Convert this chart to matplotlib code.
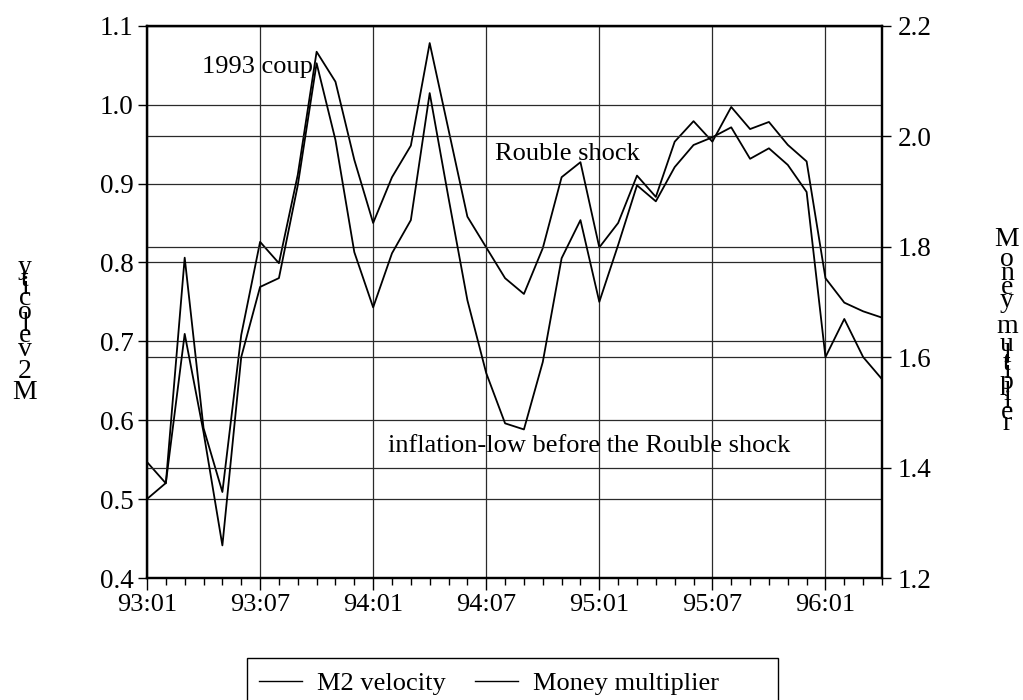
import matplotlib
matplotlib.use("Agg")
import matplotlib.pyplot as plt
import numpy as np
from matplotlib.ticker import MultipleLocator
from matplotlib.patches import Rectangle

plt.rcParams['font.family'] = ['Liberation Serif', 'DejaVu Serif']

# ---- data (monthly, 93:01 .. 96:04) ----
tick_labels = ["93:01", "93:07", "94:01", "94:07", "95:01", "95:07", "96:01"]
m2_velocity = [0.547, 0.520, 0.806, 0.590, 0.509, 0.708, 0.826, 0.799, 0.911, 1.067,
               1.029, 0.930, 0.850, 0.908, 0.948, 1.078, 0.968, 0.858, 0.819, 0.780,
               0.760, 0.818, 0.908, 0.927, 0.819, 0.850, 0.910, 0.883, 0.953, 0.979,
               0.953, 0.997, 0.969, 0.978, 0.949, 0.928, 0.780, 0.749, 0.738, 0.730]
money_multiplier = [1.343, 1.372, 1.642, 1.464, 1.259, 1.600, 1.727, 1.743, 1.911, 2.132,
                    1.993, 1.790, 1.690, 1.788, 1.848, 2.078, 1.888, 1.703, 1.571, 1.480,
                    1.469, 1.591, 1.779, 1.848, 1.700, 1.803, 1.911, 1.882, 1.944, 1.984,
                    1.998, 2.016, 1.959, 1.978, 1.948, 1.899, 1.600, 1.669, 1.600, 1.560]
left_label = "M2 velocity"
right_label = "Money multiplier"
notes = [("1993 coup", 2.92, 1.048), ("Rouble shock", 18.48, 0.938),
         ("inflation-low before the Rouble shock", 12.8, 0.567)]

W, H = 1023, 700
FS = 19
TFS = 19.5
fig = plt.figure(figsize=(W / 100, H / 100), dpi=100)
L, R, T, B = 147, 882, 25.7, 578
ax = fig.add_axes([L / W, 1 - B / H, (R - L) / W, (B - T) / H])
ax2 = ax.twinx()

x = np.arange(len(m2_velocity))
l1, = ax.plot(x, m2_velocity, color='black', lw=1.3, label="M2 velocity")
l2, = ax2.plot(x, money_multiplier, color='black', lw=1.3, label="Money multiplier")

ax.set_xlim(0, len(x) - 1)
ax.set_ylim(0.4, 1.1)
ax2.set_ylim(1.2, 2.2)
ax.set_yticks(np.round(np.arange(0.4, 1.101, 0.1), 1))
ax.set_yticklabels([f"{v:.1f}" for v in np.arange(0.4, 1.101, 0.1)])
ax2.set_yticks(np.round(np.arange(1.2, 2.201, 0.2), 1))
ax2.set_yticklabels([f"{v:.1f}" for v in np.arange(1.2, 2.201, 0.2)])
ax.set_xticks(range(0, len(x), 6))
ax.set_xticklabels(tick_labels)
ax.xaxis.set_minor_locator(MultipleLocator(1))

gkw = dict(color='#2a2a2a', lw=0.9)
ax.grid(True, axis='both', which='major', **gkw)
ax2.grid(True, axis='y', which='major', **gkw)
ax.set_axisbelow(True)

for a in (ax, ax2):
    for s in a.spines.values():
        s.set_linewidth(1.6)
ax.tick_params(axis='y', direction='out', length=6.5, width=1, pad=3.0, labelsize=TFS)
ax2.tick_params(axis='y', direction='out', length=6.5, width=1, pad=4.5, labelsize=TFS)
ax.tick_params(axis='x', which='major', direction='out', length=8.6, width=1, pad=3.0, labelsize=FS)
ax.tick_params(axis='x', which='minor', direction='out', length=5, width=1)

for txt, xi, yv in notes:
    ax.text(xi, yv, txt, fontsize=FS, ha='left', va='center')

# legend (frame drawn as in the reference, wider than its content)
leg = fig.legend([l1, l2], ["M2 velocity", "Money multiplier"], loc='center left',
                 bbox_to_anchor=(259 / W, 1 - 683 / H), bbox_transform=fig.transFigure,
                 ncol=2, frameon=False, fontsize=19, handlelength=1.62,
                 handletextpad=0.58, columnspacing=1.12, borderpad=0.0, borderaxespad=0.0)
for h in leg.get_lines():
    h.set_linewidth(1.0)
fig.patches.append(Rectangle((247 / W, -0.01), (778 - 247) / W, 1 - 658 / H + 0.01,
                             transform=fig.transFigure, fill=False, edgecolor='black',
                             lw=1.0))

# stacked, upright-glyph axis labels (as in the reference)
renderer = fig.canvas.get_renderer()


def advance(ch):
    t1 = fig.text(0, 0, "|" + ch + "|", fontsize=FS)
    t2 = fig.text(0, 0, "||", fontsize=FS)
    w = t1.get_window_extent(renderer).width - t2.get_window_extent(renderer).width
    t1.remove(); t2.remove()
    return w


def stacked(text, xpx, startpx, direction, scale):
    pos = startpx
    for ch in text:
        w = advance(ch) * scale
        c = pos + direction * w / 2
        if ch != " ":
            fig.text(xpx / W, 1 - c / H, ch, fontsize=20, ha='center', va='center')
        pos += direction * w


stacked(left_label, 25, 406, -1, 1.13)
stacked(right_label, 1007, 227, 1, 1.08)

fig.savefig("out.png", dpi=100)
